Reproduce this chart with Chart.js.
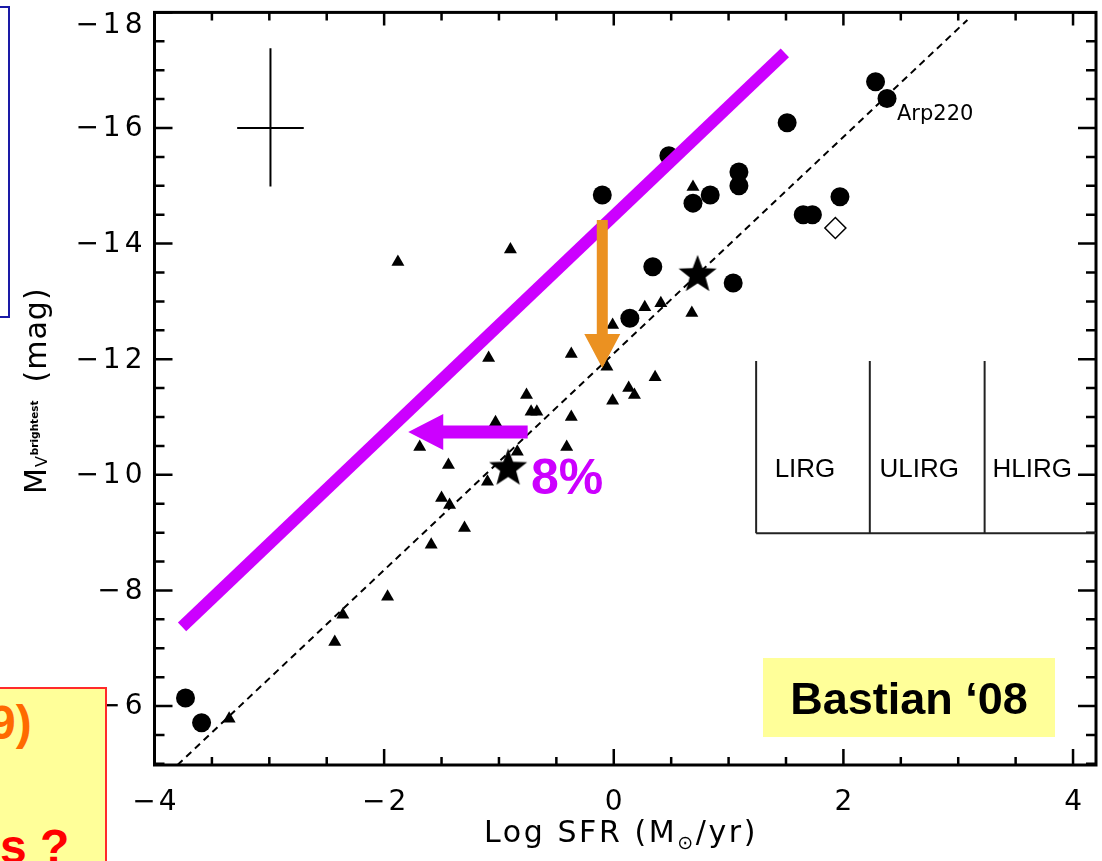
<!DOCTYPE html>
<html>
<head>
<meta charset="utf-8">
<script src="https://cdn.jsdelivr.net/npm/chart.js@4.4.1/dist/chart.umd.min.js"></script>
<style>
html,body{margin:0;padding:0;background:#fff;overflow:hidden;}
#wrap{position:relative;width:1102px;height:861px;overflow:hidden;}
#c{position:absolute;left:0;top:0;}
.bluebox{position:absolute;left:-20px;top:6px;width:30px;height:312px;box-sizing:border-box;border:2px solid #1a1aa6;background:#fff;}
.yellowbox{position:absolute;left:-20px;top:687px;width:127px;height:200px;box-sizing:border-box;border:2px solid #ff2a2a;background:#ffff99;overflow:hidden;font-family:"Liberation Sans",Arial,sans-serif;font-weight:bold;}
.yellowbox span{position:absolute;white-space:nowrap;font-size:48px;line-height:1;}
</style>
</head>
<body>
<div id="wrap">
<canvas id="c" width="1102" height="861"></canvas>
<div class="bluebox"></div>
<div class="yellowbox">
  <span style="left:7px;top:10px;color:#ff6a00;">9)</span>
  <span style="left:18px;top:134px;color:#ff0000;">s ?</span>
</div>
</div>
<script>
// ---------------- data ----------------
const circleX = [-3.73,-3.59,-0.10,0.48,0.69,0.84,1.09,1.09,0.34,0.14,1.04,1.51,2.28,2.38,1.65,1.73,1.97];
const circleY = [-6.14,-5.71,-14.84,-15.52,-14.70,-14.84,-15.24,-15.00,-13.60,-12.71,-13.32,-16.09,-16.80,-16.51,-14.50,-14.50,-14.81];
const triX = [-0.90,-1.88,0.69,0.27,0.41,-0.01,0.68,-0.37,-1.09,-0.06,0.36,0.13,0.18,-0.01,-0.76,-0.72,-0.67,-0.37,-1.03,-0.41,-1.69,-1.44,-0.84,-1.10,-1.50,-1.43,-1.30,-1.59,-1.97,-2.36,-2.43,-3.35];
const triY = [-13.90,-13.68,-14.98,-12.90,-12.97,-12.59,-12.80,-12.09,-12.02,-11.87,-11.69,-11.50,-11.38,-11.28,-11.38,-11.09,-11.09,-11.00,-10.91,-10.48,-10.48,-10.17,-10.40,-9.88,-9.60,-9.48,-9.08,-8.79,-7.89,-7.58,-7.11,-5.78];
const starX = [0.73,-0.92];
const starY = [-13.46,-10.11];
const diamondX = [1.93];
const diamondY = [-14.27];
const fitX = [-3.80,3.08];
const fitY = [-4.98,-17.87];
const upperX = [-3.76,1.49];
const upperY = [-7.37,-17.30];
const errHX = [-3.28,-2.70], errHY = [-16.0,-16.0];
const errVX = [-2.99,-2.99], errVY = [-17.38,-14.99];
const orangeArrowX = [-0.10,-0.10], orangeArrowY = [-14.41,-11.85];
const purpleArrowX = [-0.75,-1.79], purpleArrowY = [-10.74,-10.74];
const irgEdgesX = [1.24,2.23,3.23];
const irgTopY = -11.97, irgBottomY = -8.99;
const irgLabels = ['LIRG','ULIRG','HLIRG'];
const xTickLabels = [-4,-2,0,2,4];
const yTickLabels = [-18,-16,-14,-12,-10,-8,-6];
const arpLabel = 'Arp220';

// ---------------- helpers ----------------
function pts(xs, ys){ return xs.map((x,i)=>({x:x, y:ys[i]})); }
function starImage(R){
  const s = Math.ceil(2*R+2);
  const c = document.createElement('canvas'); c.width = s; c.height = s;
  const g = c.getContext('2d');
  g.beginPath();
  for(let i=0;i<10;i++){
    const r = (i%2) ? R*0.42 : R;
    const a = -Math.PI/2 + i*Math.PI/5;
    g.lineTo(s/2 + r*Math.cos(a), s/2 + r*Math.sin(a));
  }
  g.closePath(); g.fillStyle = '#000'; g.fill();
  return c;
}
const MAG = '#cc00ff';
const ORANGE = '#eb9121';
const minus = v => String(v).replace('-', '\u2212');

const irgLines = [];
irgEdgesX.forEach(x => irgLines.push({data: pts([x,x],[irgTopY,irgBottomY])}));
irgLines.push({data: pts([irgEdgesX[0], 4.2],[irgBottomY, irgBottomY])});

const lineDs = (data, color, width, dash) => ({
  type:'line', data:data, borderColor:color, borderWidth:width, borderDash:dash||[],
  pointRadius:0, fill:false, tension:0, borderCapStyle:'butt', order:5
});

const datasets = [
  lineDs(pts(fitX,fitY), '#000', 2, [7,5]),
  lineDs(pts(errHX,errHY), '#000', 2),
  lineDs(pts(errVX,errVY), '#000', 2),
  ...irgLines.map(l => lineDs(l.data, '#222', 2)),
  {label:'tri', data:pts(triX,triY), pointStyle:'triangle', pointRadius:7.5, backgroundColor:'#000', borderColor:'#000', borderWidth:0, order:3},
  {label:'circ', data:pts(circleX,circleY), pointStyle:'circle', pointRadius:9.5, backgroundColor:'#000', borderColor:'#000', borderWidth:0, order:3},
  {label:'diamond', data:pts(diamondX,diamondY), pointStyle:'rectRot', pointRadius:10.5, backgroundColor:'#fff', borderColor:'#000', borderWidth:1.5, order:3},
  {label:'star', data:pts(starX,starY), pointStyle:starImage(20), pointRadius:20, order:2},
  lineDs(pts(upperX,upperY), MAG, 12),
  lineDs(pts(orangeArrowX,orangeArrowY), 'rgba(0,0,0,0)', 0),
  lineDs(pts(purpleArrowX,purpleArrowY), 'rgba(0,0,0,0)', 0)
];
datasets[datasets.length-3].order = 1;

function arrow(ctx, x0, y0, x1, y1, shaftW, headW, headL, color){
  const dx = x1-x0, dy = y1-y0, L = Math.hypot(dx,dy);
  const ux = dx/L, uy = dy/L, nx = -uy, ny = ux;
  const bx = x1 - ux*headL, by = y1 - uy*headL;
  ctx.save();
  ctx.fillStyle = color;
  ctx.beginPath();
  ctx.moveTo(x0 + nx*shaftW/2, y0 + ny*shaftW/2);
  ctx.lineTo(bx + nx*shaftW/2, by + ny*shaftW/2);
  ctx.lineTo(bx + nx*headW/2, by + ny*headW/2);
  ctx.lineTo(x1, y1);
  ctx.lineTo(bx - nx*headW/2, by - ny*headW/2);
  ctx.lineTo(bx - nx*shaftW/2, by - ny*shaftW/2);
  ctx.lineTo(x0 - nx*shaftW/2, y0 - ny*shaftW/2);
  ctx.closePath(); ctx.fill();
  ctx.restore();
}

const FONT = '"DejaVu Sans", sans-serif';
function setLS(ctx, v){ try { ctx.letterSpacing = v; } catch(e){} }

const framePlugin = {
  id:'frame',
  beforeDatasetsDraw(chart){
    const {ctx, chartArea:a, scales:{x, y}} = chart;
    ctx.save();
    ctx.strokeStyle = '#000'; ctx.lineWidth = 3; ctx.lineCap = 'butt';
    ctx.strokeRect(a.left, a.top, a.right-a.left, a.bottom-a.top);
    ctx.lineWidth = 2.5;
    for (let v = -4; v <= 4.001; v += 0.5){
      const px = x.getPixelForValue(v);
      const major = Math.abs(v/2 - Math.round(v/2)) < 1e-6;
      const lb = major ? 16 : 8, lt = major ? 13 : 8;
      ctx.beginPath();
      ctx.moveTo(px, a.bottom); ctx.lineTo(px, a.bottom - lb);
      ctx.moveTo(px, a.top); ctx.lineTo(px, a.top + lt);
      ctx.stroke();
    }
    for (let v = -18; v <= -5.0; v += 0.5){
      const py = y.getPixelForValue(v);
      const major = Math.abs(v/2 - Math.round(v/2)) < 1e-6;
      const l = major ? 18 : 10;
      ctx.beginPath();
      ctx.moveTo(a.left, py); ctx.lineTo(a.left + l, py);
      ctx.moveTo(a.right, py); ctx.lineTo(a.right - l, py);
      ctx.stroke();
    }
    // tick labels
    ctx.fillStyle = '#000';
    ctx.font = '28px ' + FONT;
    setLS(ctx, '4px');
    ctx.textBaseline = 'middle';
    ctx.textAlign = 'right';
    yTickLabels.forEach(v => {
      const py = Math.max(y.getPixelForValue(v), a.top + 12);
      ctx.fillText(minus(v), a.left - 8, py + 1);
    });
    setLS(ctx, '3px');
    ctx.textAlign = 'center';
    xTickLabels.forEach(v => {
      ctx.fillText(minus(v), x.getPixelForValue(v) + 1.5, a.bottom + 38);
    });
    // x title
    ctx.textBaseline = 'alphabetic';
    ctx.textAlign = 'left';
    setLS(ctx, '2.6px');
    const f1 = '30px ' + FONT, f2 = '19px ' + FONT;
    const p1 = 'Log SFR (M', p2 = '\u2299', p3 = '/yr)';
    ctx.font = f1; const w1 = ctx.measureText(p1).width, w3 = ctx.measureText(p3).width;
    ctx.font = f2; const w2 = ctx.measureText(p2).width;
    const cx = 621, tot = w1 + w2 + w3;
    let sx = cx - tot/2, base = 842;
    ctx.font = f1; ctx.fillText(p1, sx, base); sx += w1;
    ctx.font = f2; ctx.fillText(p2, sx, base + 7); sx += w2;
    ctx.font = f1; ctx.fillText(p3, sx, base);
    // y title (rotated)
    ctx.save();
    ctx.translate(46, 494);
    ctx.rotate(-Math.PI/2);
    setLS(ctx, '1px');
    ctx.font = '30px ' + FONT;
    ctx.fillText('M', 0, 0);
    let ox = ctx.measureText('M').width;
    ctx.font = '16px ' + FONT;
    ctx.fillText('V', ox, 1);
    ox += ctx.measureText('V').width;
    ctx.font = 'bold 10.5px ' + FONT;
    setLS(ctx, '0px');
    ctx.fillText('brightest', ox, -8);
    ox += ctx.measureText('brightest').width + 18;
    setLS(ctx, '1px');
    ctx.font = '30px ' + FONT;
    ctx.fillText('(mag)', ox, 0);
    ctx.restore();
    ctx.restore();
  },
  afterDatasetsDraw(chart){
    const {ctx, chartArea:a, scales:{x, y}} = chart;
    ctx.save();
    setLS(ctx, '0px');
    arrow(ctx, x.getPixelForValue(orangeArrowX[0]), y.getPixelForValue(orangeArrowY[0]),
               x.getPixelForValue(orangeArrowX[1]), y.getPixelForValue(orangeArrowY[1]), 11, 36, 34, ORANGE);
    arrow(ctx, x.getPixelForValue(purpleArrowX[0]), y.getPixelForValue(purpleArrowY[0]),
               x.getPixelForValue(purpleArrowX[1]), y.getPixelForValue(purpleArrowY[1]), 13, 36, 35, MAG);
    ctx.fillStyle = MAG;
    ctx.font = 'bold 50px "Liberation Sans", Arial, sans-serif';
    ctx.textAlign = 'left'; ctx.textBaseline = 'alphabetic';
    ctx.fillText('8%', 531, 494);
    ctx.fillStyle = '#000';
    ctx.font = '21px ' + FONT;
    ctx.fillText(arpLabel, 897, 120);
    ctx.font = '26px "Liberation Sans", Arial, sans-serif';
    ctx.textAlign = 'center';
    const edges = irgEdgesX.map(v => x.getPixelForValue(v)).concat([a.right]);
    irgLabels.forEach((t,i) => {
      const cxl = (edges[i] + edges[i+1]) / 2;
      ctx.fillText(t, cxl - 8, 477);
    });
    ctx.fillStyle = '#ffff99';
    ctx.fillRect(763, 658, 292, 79);
    ctx.fillStyle = '#000';
    ctx.font = 'bold 45px "Liberation Sans", Arial, sans-serif';
    ctx.textAlign = 'center';
    ctx.fillText('Bastian \u201808', 909, 714);
    ctx.restore();
  }
};

new Chart(document.getElementById('c'), {
  type:'scatter',
  data:{datasets:datasets},
  options:{
    responsive:false, animation:false, devicePixelRatio:1,
    layout:{autoPadding:false, padding:{top:12.4, right:6, left:0, bottom:0}},
    plugins:{legend:{display:false}, tooltip:{enabled:false}},
    scales:{
      x:{type:'linear', min:-4, max:4.2, grid:{display:false}, border:{display:false},
         ticks:{display:false}, afterFit(s){ s.height = 96; }},
      y:{type:'linear', min:-18, max:-4.98, reverse:true, grid:{display:false}, border:{display:false},
         ticks:{display:false}, afterFit(s){ s.width = 154.5; }}
    }
  },
  plugins:[framePlugin]
});
</script>
</body>
</html>
